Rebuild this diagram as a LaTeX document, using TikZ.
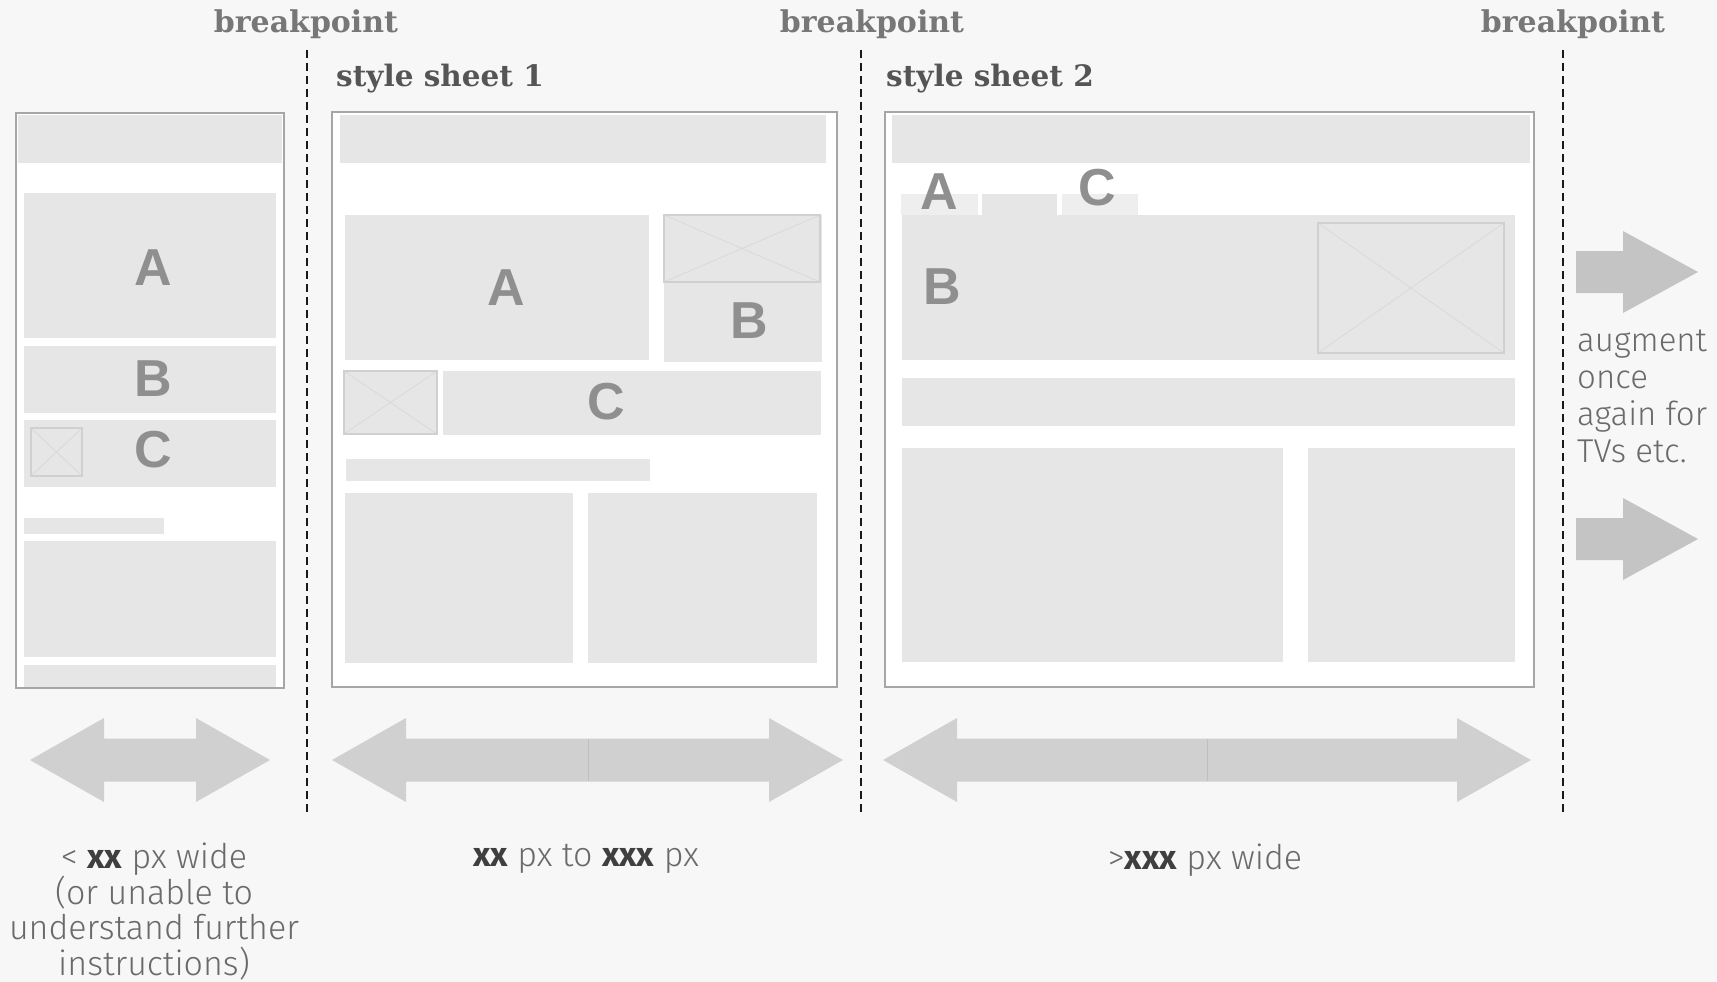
\documentclass[tikz,border=0pt]{standalone}
\usepackage{fontspec}
\usepackage{xcolor}
\usepackage{tikz}

\newfontfamily\slabfont{DejaVu Serif}
\newfontfamily\thinfont{Fira Sans Light}
\newfontfamily\firafont{Fira Sans}
\newfontfamily\letterfont{Liberation Sans}

\definecolor{pagebg}{HTML}{F7F7F7}
\definecolor{blockgray}{HTML}{E6E6E6}
\definecolor{tabgray}{HTML}{EEEEEE}
\definecolor{framegray}{HTML}{A6A6A6}
\definecolor{imggray}{HTML}{D0D0D0}
\definecolor{lettergray}{HTML}{8F8F8F}
\definecolor{arrowgray}{HTML}{D0D0D0}
\definecolor{sidegray}{HTML}{C4C4C4}
\definecolor{bptext}{HTML}{777777}
\definecolor{sheettext}{HTML}{555555}
\definecolor{notetext}{HTML}{6A6A6A}
\definecolor{notebold}{HTML}{3F3F3F}

% image placeholder: box with a cross
\newcommand{\imgbox}[4]{%
  \fill[blockgray] (#1,#2) rectangle (#3,#4);
  \draw[imgx] (#1,#2) -- (#3,#4) (#1,#4) -- (#3,#2);
  \draw[imgph] (#1,#2) rectangle (#3,#4);}
% wide double arrow: left x, right x, centre y
\newcommand{\widtharrow}[3]{%
  \fill[widearrow] (#1,#3) -- (#1+74,#3-42) -- (#1+74,#3-21.5) -- (#2-74,#3-21.5)
    -- (#2-74,#3-42) -- (#2,#3) -- (#2-74,#3+42) -- (#2-74,#3+21.5)
    -- (#1+74,#3+21.5) -- (#1+74,#3+42) -- cycle;}
% right arrow beside the last breakpoint
\newcommand{\onwardarrow}[1]{%
  \fill[sidearrow] (1576,#1-21) -- (1623,#1-21) -- (1623,#1-41) -- (1698,#1)
    -- (1623,#1+41) -- (1623,#1+21) -- (1576,#1+21) -- cycle;}

\begin{document}
\begin{tikzpicture}[
    x=1pt, y=-1pt,
    blockfill/.style={fill=blockgray},
    tabfill/.style={fill=tabgray},
    pageframe/.style={draw=framegray, line width=2pt},
    imgph/.style={draw=imggray, line width=1.5pt},
    imgx/.style={draw=imggray!80!white, line width=0.8pt},
    bpline/.style={draw=black!90, line width=2.6pt, dash pattern=on 8pt off 5pt},
    bplabel/.style={anchor=base, inner sep=0pt, text=bptext, font=\slabfont\bfseries\fontsize{30}{30}\selectfont},
    sheetlabel/.style={anchor=base west, inner sep=0pt, text=sheettext, font=\slabfont\bfseries\fontsize{29.5}{30}\selectfont},
    letter/.style={inner sep=0pt, text=lettergray, font=\letterfont\bfseries\fontsize{52}{52}\selectfont},
    widearrow/.style={fill=arrowgray},
    sidearrow/.style={fill=sidegray},
    note/.style={inner sep=0pt, text=notetext, font=\thinfont\fontsize{34}{35.5}\selectfont},
    sidenote/.style={inner sep=0pt, text=notetext, font=\thinfont\fontsize{33}{37}\selectfont}
]
\newcommand{\bx}[1]{{\firafont\bfseries\color{notebold}#1}}

  % Background
  \fill[pagebg] (0,0) rectangle (1717,982);

  % Breakpoints
  \foreach \xb in {307,861,1563}
    \draw[bpline] (\xb,50) -- (\xb,814);
  \node[bplabel] (bp1) at (306,33) {breakpoint};
  \node[bplabel] (bp2) at (872,33) {breakpoint};
  \node[bplabel] (bp3) at (1573,33) {breakpoint};

  \node[sheetlabel] (sheet1) at (336,87) {style sheet 1};
  \node[sheetlabel] (sheet2) at (886,87) {style sheet 2};

  % Small screen
  \fill[white] (16,113) rectangle (284,688);
  \fill[blockfill] (18,115) rectangle (282,163);
  \fill[blockfill] (24,193) rectangle (276,338);
  \fill[blockfill] (24,346) rectangle (276,413);
  \fill[blockfill] (24,420) rectangle (276,487);
  \fill[blockfill] (24,518) rectangle (164,534);
  \fill[blockfill] (24,541) rectangle (276,657);
  \fill[blockfill] (24,665) rectangle (276,687);
  \imgbox{31}{428}{82}{476}
  \draw[pageframe] (16,113) rectangle (284,688);
  \node[letter] (a1) at (153,268) {A};
  \node[letter] (b1) at (153,379) {B};
  \node[letter] (c1) at (153,450) {C};

  % Medium screen
  \fill[white] (332,112) rectangle (837,687);
  \fill[blockfill] (340,115) rectangle (826,163);
  \fill[blockfill] (345,215) rectangle (649,360);
  \fill[blockfill] (664,215) rectangle (822,362);
  \imgbox{664}{215}{820}{282}
  \imgbox{344}{371}{437}{434}
  \fill[blockfill] (443,371) rectangle (821,435);
  \fill[blockfill] (346,459) rectangle (650,481);
  \fill[blockfill] (345,493) rectangle (573,663);
  \fill[blockfill] (588,493) rectangle (817,663);
  \draw[pageframe] (332,112) rectangle (837,687);
  \node[letter] (a2) at (506,288) {A};
  \node[letter] (b2) at (749,321) {B};
  \node[letter] (c2) at (606,402) {C};

  % Wide screen
  \fill[white] (885,112) rectangle (1534,687);
  \fill[blockfill] (892,115) rectangle (1530,163);
  \fill[tabfill] (901,194) rectangle (978,215);
  \fill[blockfill] (982,194) rectangle (1057,215);
  \fill[tabfill] (1062,194) rectangle (1138,215);
  \fill[blockfill] (902,215) rectangle (1515,360);
  \imgbox{1318}{223}{1504}{353}
  \fill[blockfill] (902,378) rectangle (1515,426);
  \fill[blockfill] (902,448) rectangle (1283,662);
  \fill[blockfill] (1308,448) rectangle (1515,662);
  \draw[pageframe] (885,112) rectangle (1534,687);
  \node[letter] (a3) at (939,192) {A};
  \node[letter] (c3) at (1097,188) {C};
  \node[letter] (b3) at (942,287) {B};

  % Width arrows
  \widtharrow{30}{270}{760}
  \widtharrow{332}{843}{760}
  \widtharrow{883}{1531}{760}
  \draw[arrowgray!92!black, line width=0.6pt] (588,739) -- (588,781);
  \draw[arrowgray!92!black, line width=0.6pt] (1207,739) -- (1207,781);

  % Onward arrows
  \onwardarrow{272}
  \onwardarrow{539}

  % Notes
  \node[note, align=center, anchor=north] (small) at (154,843)
    {< \bx{xx} px wide\\(or unable to\\understand further\\instructions)};
  \node[note, anchor=north] (medium) at (586,844) {\bx{xx} px to \bx{xxx} px};
  \node[note, anchor=north] (large) at (1205,844) {>\bx{xxx} px wide};
  \node[sidenote, align=left, anchor=north west] (onward) at (1577,330)
    {augment\\once\\again for\\TVs etc.};

\end{tikzpicture}
\end{document}
